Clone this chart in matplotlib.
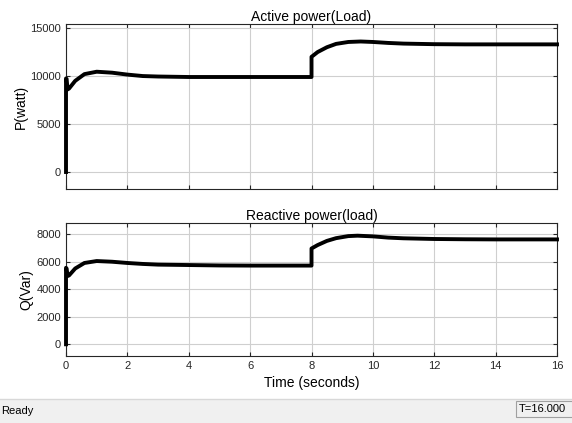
import matplotlib.pyplot as plt
from matplotlib.patches import Rectangle
import numpy as np

plt.rcParams['font.family'] = ['Liberation Sans', 'DejaVu Sans']

# values (time in s)
t_p = [0, 0, 0.02, 0.05, 0.1, 0.3, 0.6, 1.0, 1.5, 2.0, 2.5, 3.0, 4.0, 5.0, 6.0, 7.0, 8.0,
       8.0, 8.2, 8.5, 8.8, 9.2, 9.6, 10.0, 10.5, 11.0, 12.0, 13.0, 14.0, 15.0, 16.0]
p_load = [0, 9750, 9700, 8600, 8700, 9500, 10200, 10450, 10350, 10150, 10000, 9950, 9900, 9900, 9900, 9900, 9900,
          12000, 12500, 13000, 13350, 13550, 13600, 13550, 13450, 13380, 13320, 13300, 13300, 13300, 13300]

t_q = [0, 0, 0.02, 0.05, 0.1, 0.3, 0.6, 1.0, 1.5, 2.0, 2.5, 3.0, 4.0, 5.0, 6.0, 7.0, 8.0,
       8.0, 8.2, 8.5, 8.8, 9.2, 9.5, 10.0, 10.5, 11.0, 12.0, 13.0, 14.0, 15.0, 16.0]
q_load = [0, 5550, 5500, 4950, 5000, 5500, 5900, 6040, 5990, 5900, 5830, 5780, 5750, 5720, 5710, 5710, 5710,
          6950, 7200, 7500, 7700, 7850, 7880, 7830, 7740, 7690, 7640, 7620, 7610, 7610, 7610]

x_ticks = np.arange(0, 17, 2)

fig = plt.figure(figsize=(5.72, 4.23), dpi=100)

ax1 = fig.add_axes([0.1154, 0.5532, 0.8584, 0.390])
ax2 = fig.add_axes([0.1154, 0.1584, 0.8584, 0.3144])

for ax in (ax1, ax2):
    ax.set_xlim(0, 16)
    ax.set_xticks(x_ticks)
    ax.grid(True, color='#cfcfcf', linewidth=0.8)
    ax.set_axisbelow(True)
    ax.tick_params(direction='in', top=True, right=True, labelsize=8, length=3, colors='#262626')
    for s in ax.spines.values():
        s.set_color('#262626')
        s.set_linewidth(0.8)

ax1.plot(t_p, p_load, color='black', linewidth=2.8, clip_on=False, zorder=5)
ax1.set_ylim(-1770, 15420)
ax1.set_yticks([0, 5000, 10000, 15000])
ax1.tick_params(labelbottom=False)
ax1.set_title('Active power(Load)', fontsize=10, pad=2)
ax1.set_ylabel('P(watt)', fontsize=10, labelpad=2)

ax2.plot(t_q, q_load, color='black', linewidth=2.8, clip_on=False, zorder=5)
ax2.set_ylim(-850, 8800)
ax2.set_yticks([0, 2000, 4000, 6000, 8000])
ax2.set_title('Reactive power(load)', fontsize=10, pad=2)
ax2.set_ylabel('Q(Var)', fontsize=10, labelpad=2)
ax2.set_xlabel('Time (seconds)', fontsize=10, labelpad=4)

# status bar
fig.patches.append(Rectangle((0, 0), 1, 24 / 423, transform=fig.transFigure,
                             facecolor='#f0f0f0', edgecolor='none', zorder=0))
fig.lines.append(plt.Line2D([0, 1], [24 / 423, 24 / 423], transform=fig.transFigure,
                            color='#d8d8d8', linewidth=1))
fig.text(0.002, 12 / 423, 'Ready', fontsize=8, va='center', ha='left')
fig.patches.append(Rectangle((516 / 572, 6 / 423), 60 / 572, 16 / 423, transform=fig.transFigure,
                             facecolor='#f0f0f0', edgecolor='#a0a0a0', linewidth=0.8))
fig.text(519 / 572, 14 / 423, 'T=16.000', fontsize=8, va='center', ha='left')

fig.savefig('out.png', dpi=100)
